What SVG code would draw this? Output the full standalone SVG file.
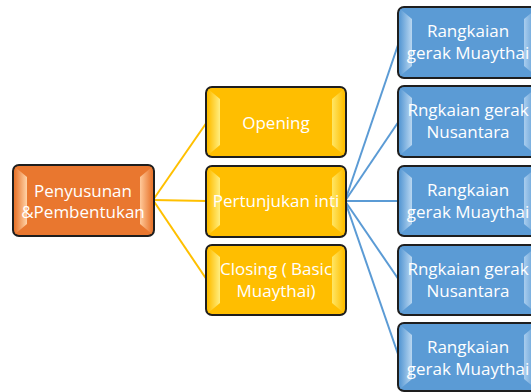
<svg xmlns="http://www.w3.org/2000/svg" width="531" height="392" viewBox="0 0 531 392">
  <defs>
    <linearGradient id="orL" x1="0" y1="0" x2="1" y2="0"><stop offset="0" stop-color="#E9772F"/><stop offset="1" stop-color="#FFD3A8"/></linearGradient>
    <linearGradient id="orR" x1="1" y1="0" x2="0" y2="0"><stop offset="0" stop-color="#E9772F"/><stop offset="1" stop-color="#FFC99A"/></linearGradient>
    <linearGradient id="goL" x1="0" y1="0" x2="1" y2="0"><stop offset="0" stop-color="#FFBE00"/><stop offset="1" stop-color="#FFEE80"/></linearGradient>
    <linearGradient id="goR" x1="1" y1="0" x2="0" y2="0"><stop offset="0" stop-color="#FFBE00"/><stop offset="1" stop-color="#FFE766"/></linearGradient>
    <linearGradient id="blL" x1="0" y1="0" x2="1" y2="0"><stop offset="0" stop-color="#5B9BD5"/><stop offset="1" stop-color="#B9D7F1"/></linearGradient>
    <linearGradient id="blR" x1="1" y1="0" x2="0" y2="0"><stop offset="0" stop-color="#5B9BD5"/><stop offset="1" stop-color="#A9CDEE"/></linearGradient>
  </defs>
  <style>
    .box { stroke: #1e1e1e; stroke-width: 2; }
    .or { fill: #E9772F; }
    .go { fill: #FFBE00; }
    .bl { fill: #5B9BD5; }
    .t { font-family: "Open Sans", "Noto Sans", sans-serif; font-size: 17px; fill: #ffffff; text-anchor: middle; }
    .cy { stroke: #FFC000; stroke-width: 2; fill: none; }
    .cb { stroke: #5B9BD5; stroke-width: 2; fill: none; }
  </style>

  <g id="connectors">
    <line class="cy" x1="153" y1="200" x2="207" y2="122"/>
    <line class="cy" x1="153" y1="200" x2="207" y2="201"/>
    <line class="cy" x1="153" y1="200" x2="207" y2="280"/>
    <line class="cb" x1="345" y1="201" x2="399" y2="42"/>
    <line class="cb" x1="345" y1="201" x2="399" y2="121"/>
    <line class="cb" x1="345" y1="201" x2="399" y2="201"/>
    <line class="cb" x1="345" y1="201" x2="399" y2="280"/>
    <line class="cb" x1="345" y1="201" x2="399" y2="357"/>
  </g>

  <g id="node-root">
    <rect class="box or" x="13" y="165" width="141" height="71" rx="6"/>
    <polygon points="15,167 27,177 27,224 15,234" fill="url(#orL)"/>
    <polygon points="152,167 140,177 140,224 152,234" fill="url(#orR)"/>
    <text class="t" x="83" y="197">Penyusunan</text>
    <text class="t" x="83" y="218">&amp;Pembentukan</text>
  </g>

  <g id="node-opening">
    <rect class="box go" x="206" y="87" width="140" height="70" rx="6"/>
    <polygon points="208,89 220,99 220,145 208,155" fill="url(#goL)"/>
    <polygon points="344,89 332,99 332,145 344,155" fill="url(#goR)"/>
    <text class="t" x="276" y="129">Opening</text>
  </g>

  <g id="node-inti">
    <rect class="box go" x="206" y="166" width="140" height="71" rx="6"/>
    <polygon points="208,168 220,178 220,225 208,235" fill="url(#goL)"/>
    <polygon points="344,168 332,178 332,225 344,235" fill="url(#goR)"/>
    <text class="t" x="276" y="207">Pertunjukan inti</text>
  </g>

  <g id="node-closing">
    <rect class="box go" x="206" y="245" width="140" height="70" rx="6"/>
    <polygon points="208,247 220,257 220,303 208,313" fill="url(#goL)"/>
    <polygon points="344,247 332,257 332,303 344,313" fill="url(#goR)"/>
    <text class="t" x="276" y="275">Closing ( Basic</text>
    <text class="t" x="276" y="297">Muaythai)</text>
  </g>

  <g id="node-r1">
    <rect class="box bl" x="398" y="7" width="140" height="71" rx="6"/>
    <polygon points="400,9 412,19 412,66 400,76" fill="url(#blL)"/>
    <polygon points="536,9 524,19 524,66 536,76" fill="url(#blR)"/>
    <text class="t" x="468" y="37">Rangkaian</text>
    <text class="t" x="468" y="59">gerak Muaythai</text>
  </g>

  <g id="node-r2">
    <rect class="box bl" x="398" y="86" width="140" height="71" rx="6"/>
    <polygon points="400,88 412,98 412,145 400,155" fill="url(#blL)"/>
    <polygon points="536,88 524,98 524,145 536,155" fill="url(#blR)"/>
    <text class="t" x="468" y="116">Rngkaian gerak</text>
    <text class="t" x="468" y="138">Nusantara</text>
  </g>

  <g id="node-r3">
    <rect class="box bl" x="398" y="166" width="140" height="70" rx="6"/>
    <polygon points="400,168 412,178 412,224 400,234" fill="url(#blL)"/>
    <polygon points="536,168 524,178 524,224 536,234" fill="url(#blR)"/>
    <text class="t" x="468" y="196">Rangkaian</text>
    <text class="t" x="468" y="218">gerak Muaythai</text>
  </g>

  <g id="node-r4">
    <rect class="box bl" x="398" y="245" width="140" height="70" rx="6"/>
    <polygon points="400,247 412,257 412,303 400,313" fill="url(#blL)"/>
    <polygon points="536,247 524,257 524,303 536,313" fill="url(#blR)"/>
    <text class="t" x="468" y="275">Rngkaian gerak</text>
    <text class="t" x="468" y="297">Nusantara</text>
  </g>

  <g id="node-r5">
    <rect class="box bl" x="398" y="323" width="140" height="68" rx="6"/>
    <polygon points="400,325 412,335 412,379 400,389" fill="url(#blL)"/>
    <polygon points="536,325 524,335 524,379 536,389" fill="url(#blR)"/>
    <text class="t" x="468" y="353">Rangkaian</text>
    <text class="t" x="468" y="375">gerak Muaythai</text>
  </g>
</svg>
